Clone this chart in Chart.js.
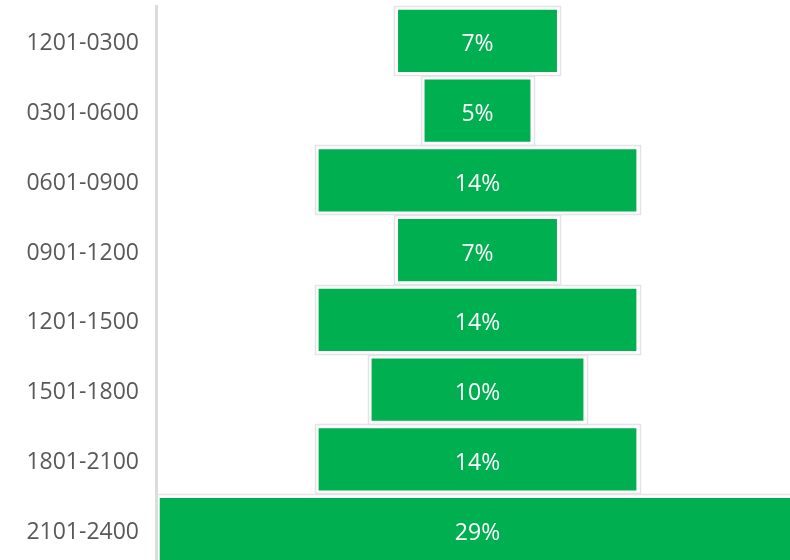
<!DOCTYPE html>
<html>
<head>
<meta charset="utf-8">
<script src="https://cdn.jsdelivr.net/npm/chart.js@4"></script>
<style>
  html, body { margin: 0; padding: 0; background: #fff; overflow: hidden; }
  #wrap { width: 790px; height: 560px; overflow: hidden; position: relative; }
  #wrap canvas { display: block; }
</style>
</head>
<body>
<div id="wrap"><canvas id="funnelChart" width="790" height="564"></canvas></div>
<script>
  'use strict';

  // Time windows and counts per window (labels show share of total)
  var timeWindows = ['1201-0300', '0301-0600', '0601-0900', '0901-1200',
                     '1201-1500', '1501-1800', '1801-2100', '2101-2400'];
  var counts = [3, 2, 6, 3, 6, 4, 6, 12];

  var total = counts.reduce(function (a, b) { return a + b; }, 0);
  var percentLabels = counts.map(function (c) {
    return Math.round(c / total * 100) + '%';
  });

  // Funnel: each bar floats symmetrically around zero
  var floatingBars = counts.map(function (c) { return [-c / 2, c / 2]; });

  // Draws the thin grey frame around each bar and the percent inside it
  var funnelDecor = {
    id: 'funnelDecor',
    afterDatasetsDraw: function (chart) {
      var ctx = chart.ctx;
      var area = chart.chartArea;
      var meta = chart.getDatasetMeta(0);
      ctx.save();
      ctx.beginPath();
      ctx.rect(area.left + 2, area.top - 10, area.right - area.left, area.bottom - area.top + 20);
      ctx.clip();
      meta.data.forEach(function (bar, i) {
        var p = bar.getProps(['x', 'y', 'base', 'height'], true);
        var left = Math.min(p.x, p.base);
        var right = Math.max(p.x, p.base);
        var top = p.y - p.height / 2;
        ctx.strokeStyle = '#e4e4e4';
        ctx.lineWidth = 1.5;
        ctx.strokeRect(Math.round(left) - 3.5, Math.round(top) - 3.5,
                       Math.round(right - left) + 7, Math.round(p.height) + 7);
        ctx.fillStyle = '#ffffff';
        ctx.font = '23px "Open Sans", "DejaVu Sans", sans-serif';
        ctx.textAlign = 'center';
        ctx.textBaseline = 'middle';
        ctx.fillText(percentLabels[i], (left + right) / 2, p.y + 4);
      });
      ctx.restore();
    }
  };

  var ctx = document.getElementById('funnelChart').getContext('2d');
  new Chart(ctx, {
    type: 'bar',
    data: {
      labels: timeWindows,
      datasets: [{
        data: floatingBars,
        backgroundColor: '#00b050',
        borderWidth: 0,
        barPercentage: 0.89,
        categoryPercentage: 1.0
      }]
    },
    options: {
      indexAxis: 'y',
      responsive: false,
      animation: false,
      layout: { padding: { top: 6, left: 0, right: 0, bottom: 0 } },
      plugins: {
        legend: { display: false },
        tooltip: { enabled: false }
      },
      scales: {
        x: {
          display: false,
          min: -6.07,
          max: 5.9
        },
        y: {
          afterFit: function (scale) {
            scale.width = 156;
            scale.paddingTop = 0;
            scale.paddingBottom = 0;
          },
          grid: { display: false, drawTicks: false },
          border: { display: true, color: '#dcdcdc', width: 3 },
          ticks: {
            color: '#595959',
            padding: 17,
            labelOffset: 3,
            font: { family: '"Open Sans", "DejaVu Sans", sans-serif', size: 23 }
          }
        }
      }
    },
    plugins: [funnelDecor]
  });
</script>
</body>
</html>
